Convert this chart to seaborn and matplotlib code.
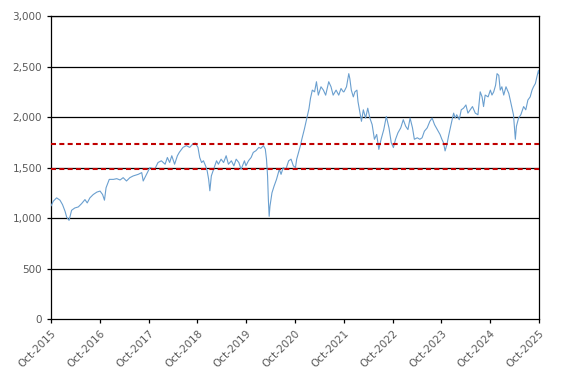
import pandas as pd
import matplotlib
matplotlib.use('Agg')
import matplotlib.pyplot as plt
import matplotlib.dates as mdates
from matplotlib.ticker import FuncFormatter
import seaborn as sns

# Valores (aproximados)
datas = [
    '2015-10-01', '2015-10-18', '2015-11-12', '2015-12-07', '2015-12-26', '2016-01-14',
    '2016-01-26', '2016-02-13', '2016-03-03', '2016-03-27', '2016-04-22', '2016-05-17',
    '2016-06-11', '2016-06-28', '2016-07-18', '2016-08-12', '2016-09-08', '2016-10-02',
    '2016-10-21', '2016-11-04', '2016-11-16', '2016-12-10', '2017-01-10', '2017-02-04',
    '2017-03-01', '2017-03-24', '2017-04-18', '2017-05-13', '2017-06-07', '2017-07-15',
    '2017-08-10', '2017-08-21', '2017-09-15', '2017-10-10',
    '2017-11-15', '2017-12-10', '2018-01-04', '2018-02-01', '2018-02-18', '2018-03-07',
    '2018-03-23', '2018-04-13', '2018-05-04', '2018-05-18', '2018-06-15', '2018-07-10',
    '2018-08-04', '2018-08-27', '2018-09-15', '2018-10-05', '2018-10-18', '2018-11-01',
    '2018-11-15', '2018-12-01', '2018-12-13', '2018-12-24', '2019-01-02', '2019-01-13',
    '2019-02-04', '2019-02-21', '2019-03-07', '2019-03-27', '2019-04-15', '2019-05-04',
    '2019-05-21', '2019-06-12', '2019-07-01', '2019-07-18', '2019-08-07', '2019-08-24',
    '2019-09-18',
    '2019-09-29', '2019-10-18', '2019-11-07', '2019-11-23', '2019-12-13', '2020-01-04',
    '2020-01-18', '2020-02-07', '2020-02-21', '2020-03-01', '2020-03-09', '2020-03-15',
    '2020-03-21', '2020-03-27', '2020-04-11', '2020-04-27', '2020-05-15', '2020-06-05',
    '2020-06-18', '2020-07-04', '2020-07-24', '2020-08-14', '2020-09-01', '2020-09-18',
    '2020-10-04', '2020-10-13', '2020-10-27', '2020-11-10', '2020-11-21', '2020-12-10',
    '2020-12-27', '2021-01-13', '2021-01-24', '2021-02-07', '2021-02-24', '2021-03-10',
    '2021-03-24', '2021-04-13', '2021-05-01', '2021-05-18', '2021-06-10', '2021-06-27',
    '2021-07-13', '2021-08-04', '2021-08-24', '2021-09-10', '2021-09-27',
    '2021-10-02', '2021-10-21', '2021-11-07', '2021-11-15', '2021-11-26', '2021-12-11',
    '2021-12-23', '2022-01-07', '2022-01-15', '2022-02-01', '2022-02-10', '2022-02-24',
    '2022-03-13', '2022-03-29', '2022-04-14', '2022-05-01', '2022-05-18', '2022-06-04',
    '2022-06-20', '2022-07-07', '2022-07-27', '2022-08-15', '2022-09-04', '2022-09-21',
    '2022-10-07', '2022-10-23', '2022-11-10', '2022-12-01', '2022-12-20', '2023-01-07',
    '2023-01-24', '2023-02-09', '2023-02-27', '2023-03-13', '2023-04-04', '2023-04-23',
    '2023-05-10', '2023-05-27', '2023-06-17', '2023-07-07', '2023-07-24', '2023-08-11',
    '2023-09-01', '2023-09-21',
    '2023-10-05', '2023-10-17', '2023-10-29', '2023-11-12', '2023-11-24', '2023-12-07',
    '2023-12-18', '2024-01-01', '2024-01-13', '2024-01-24', '2024-02-12', '2024-02-27',
    '2024-03-15', '2024-04-02', '2024-04-17', '2024-05-04', '2024-05-21', '2024-06-11',
    '2024-07-01', '2024-07-18', '2024-08-01', '2024-08-12', '2024-08-24', '2024-09-15',
    '2024-10-02', '2024-10-14', '2024-10-27', '2024-11-10', '2024-11-21', '2024-12-04',
    '2024-12-15', '2024-12-27', '2025-01-10', '2025-01-27', '2025-02-17', '2025-02-28',
    '2025-03-13', '2025-03-24', '2025-04-07', '2025-04-15', '2025-05-01', '2025-05-18',
    '2025-06-08', '2025-06-24', '2025-07-10', '2025-07-27', '2025-08-10', '2025-08-21',
    '2025-09-04', '2025-09-15', '2025-09-27', '2025-10-01',
]
valores = [
    1120, 1167, 1200, 1177, 1133, 1067, 1010, 977, 1077, 1100, 1110, 1143,
    1183, 1150, 1200, 1233, 1257, 1267, 1233, 1177, 1300, 1383, 1383, 1390,
    1377, 1400, 1367, 1400, 1417, 1433, 1450, 1367, 1433, 1500,
    1483, 1550, 1567, 1533, 1600, 1550, 1617, 1533, 1617, 1650, 1700, 1717,
    1700, 1733, 1743, 1700, 1600, 1550, 1567, 1517, 1467, 1383, 1270, 1417,
    1500, 1567, 1533, 1583, 1550, 1617, 1533, 1567, 1517, 1583, 1550, 1483,
    1567,
    1517, 1567, 1600, 1650, 1667, 1700, 1690, 1717, 1683, 1583, 1417, 1183,
    1017, 1117, 1250, 1317, 1383, 1483, 1433, 1500, 1483, 1567, 1583, 1517,
    1500, 1583, 1650, 1717, 1783, 1883, 1983, 2083, 2183, 2267, 2250, 2350,
    2217, 2300, 2267, 2217, 2350, 2300, 2217, 2267, 2217, 2283, 2250,
    2250, 2300, 2430, 2380, 2267, 2200, 2250, 2267, 2153, 2023, 1958, 2072,
    1990, 2088, 1990, 1925, 1780, 1828, 1680, 1780, 1876, 2006, 1893, 1746,
    1698, 1780, 1844, 1893, 1974, 1909, 1876, 1990, 1893, 1780, 1795, 1780,
    1795, 1860, 1893, 1958, 1990, 1925, 1876, 1828,
    1780, 1746, 1665, 1730, 1812, 1893, 1958, 2039, 1990, 2023, 1974, 2072,
    2088, 2120, 2039, 2072, 2104, 2039, 2023, 2250, 2200, 2104, 2218, 2200,
    2267, 2218, 2250, 2315, 2430, 2413, 2267, 2300, 2218, 2300, 2234, 2169,
    2088, 2023, 1780, 1909, 1990, 2023, 2104, 2072, 2169, 2200, 2267, 2300,
    2332, 2397, 2462, 2430,
]
linhas_ref = [1735, 1490]

df = pd.DataFrame({'data': pd.to_datetime(datas), 'valor': valores})

sns.set_style('white')
plt.rcParams['font.family'] = ['DejaVu Sans']

fig = plt.figure(figsize=(5.67, 3.83), dpi=100)
ax = fig.add_axes([0.09, 0.167, 0.8606, 0.791])

# linhas de grade horizontais
for v in range(500, 3001, 500):
    ax.axhline(v, color='black', lw=0.9, zorder=1)

sns.lineplot(data=df, x='data', y='valor', ax=ax, color='#6a9fcf', lw=0.8, zorder=3)

# linhas de referência tracejadas
for v in linhas_ref:
    ax.axhline(v, color='#c00000', lw=1.5, ls=(0, (2.4, 1.6)), zorder=4)

ax.set_xlim(pd.Timestamp('2015-10-01'), pd.Timestamp('2025-10-01'))
ax.set_ylim(0, 3000)
ax.set_yticks(range(0, 3001, 500))
ax.yaxis.set_major_formatter(FuncFormatter(lambda v, p: f'{int(v):,}'))
ax.xaxis.set_major_locator(mdates.MonthLocator(bymonth=10))
ax.xaxis.set_major_formatter(mdates.DateFormatter('%b-%Y'))
ax.set_xlabel('')
ax.set_ylabel('')

for s in ax.spines.values():
    s.set_color('black')
    s.set_linewidth(0.9)

ax.tick_params(axis='both', colors='black', labelcolor='#595959', labelsize=7.5,
               direction='out', length=3, width=0.9, bottom=True, left=True)
plt.setp(ax.get_xticklabels(), rotation=45, ha='right', rotation_mode='anchor')

fig.savefig('out.png', dpi=100)
